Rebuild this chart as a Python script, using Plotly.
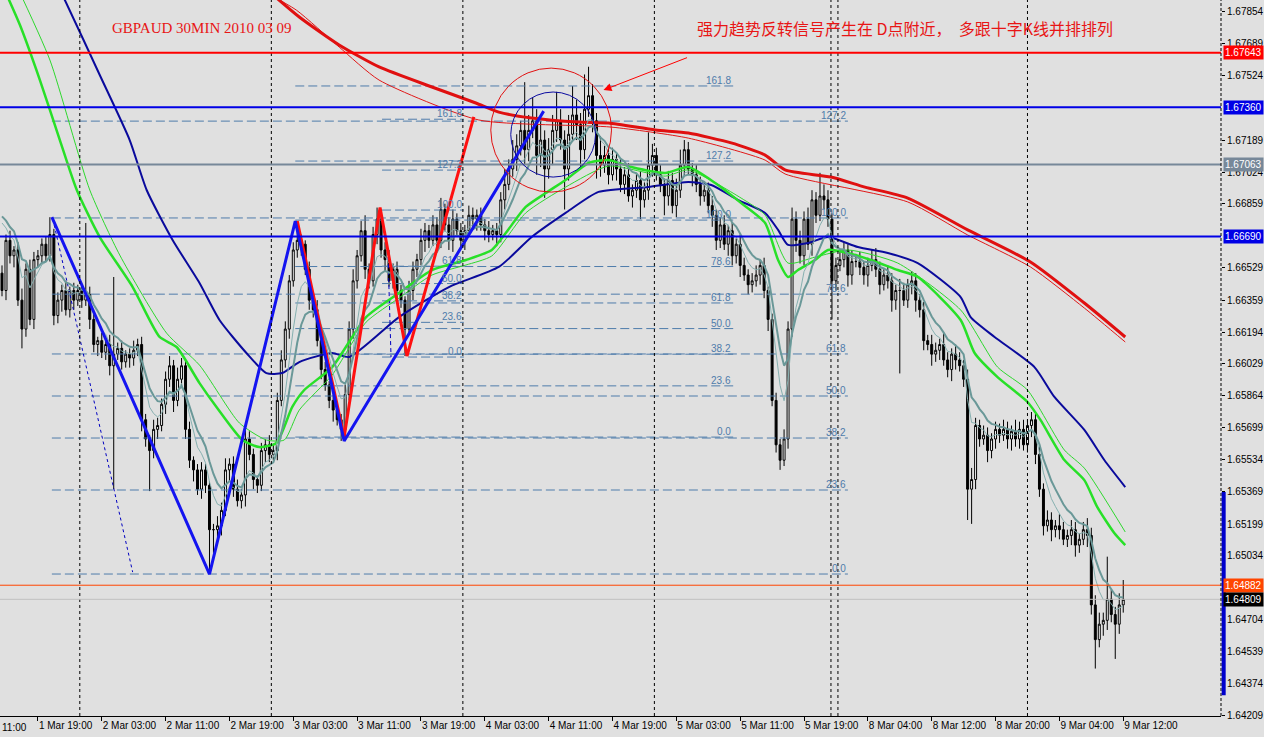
import plotly.graph_objects as go

# ---------------- data (30-min bars, bar index 0 = 1 Mar 14:30) ----------------
first_open = 1.6650
closes = [
    1.6641, 1.6667, 1.6659, 1.6662, 1.6636, 1.6621, 1.6652, 1.6626, 1.6657, 1.6659,
    1.6665, 1.6659, 1.6670, 1.6628, 1.6636, 1.6641, 1.6631, 1.6641, 1.6636, 1.6641,
    1.6636, 1.6639, 1.6626, 1.6613, 1.6615, 1.6609, 1.6613, 1.6602, 1.6608, 1.6611,
    1.6604, 1.6608, 1.6606, 1.6610, 1.6613, 1.6574, 1.6564, 1.6558, 1.6569, 1.6571,
    1.6582, 1.6595, 1.6602, 1.6584, 1.6595, 1.6602, 1.6569, 1.6553, 1.6548, 1.6538,
    1.6548, 1.6540, 1.6517, 1.6517, 1.6519, 1.6527, 1.6548, 1.6551, 1.6538, 1.6532,
    1.6535, 1.6564, 1.6556, 1.6543, 1.6540, 1.6558, 1.6561, 1.6556, 1.6558, 1.6584,
    1.6605, 1.6621, 1.6646, 1.6662, 1.6667, 1.6665, 1.6652, 1.6636, 1.6631, 1.6615,
    1.6600, 1.6592, 1.6584, 1.6579, 1.6574, 1.6569, 1.6587, 1.6621, 1.6646, 1.6659,
    1.6672, 1.6652, 1.6646, 1.6670, 1.6678, 1.6662, 1.6657, 1.6646, 1.6652, 1.6641,
    1.6636, 1.6621, 1.6641, 1.6652, 1.6657, 1.6667, 1.6672, 1.6667, 1.6675, 1.6667,
    1.6683, 1.6675, 1.6667, 1.6678, 1.6672, 1.6667, 1.6672, 1.6680, 1.6678, 1.6680,
    1.6675, 1.6672, 1.6670, 1.6672, 1.6670, 1.6688, 1.6696, 1.6704, 1.6709, 1.6716,
    1.6724, 1.6714, 1.6724, 1.6729, 1.6711, 1.6719, 1.6704, 1.6714, 1.6724, 1.6729,
    1.6719, 1.6704, 1.6722, 1.6732, 1.6727, 1.6714, 1.6735, 1.6742, 1.6729, 1.6711,
    1.6706, 1.6711, 1.6701, 1.6709, 1.6704, 1.6696, 1.6701, 1.6690, 1.6693, 1.6698,
    1.6688, 1.6693, 1.6706, 1.6711, 1.6701, 1.6696, 1.6690, 1.6698, 1.6685, 1.6693,
    1.6706, 1.6714, 1.6704, 1.6701, 1.6696, 1.6690, 1.6693, 1.6685, 1.6680, 1.6667,
    1.6675, 1.6665, 1.6672, 1.6659, 1.6665, 1.6654, 1.6649, 1.6644, 1.6646, 1.6649,
    1.6654, 1.6641, 1.6626, 1.6584, 1.6561, 1.6553, 1.6564, 1.6621, 1.6678, 1.6667,
    1.6659, 1.6678, 1.6665, 1.6688, 1.6680, 1.6690, 1.6688, 1.6678, 1.6646, 1.6654,
    1.6657, 1.6662, 1.6649, 1.6656, 1.6656, 1.6653, 1.6649, 1.6654, 1.6657, 1.6652,
    1.6644, 1.6649, 1.6646, 1.6636, 1.6641, 1.6641, 1.6636, 1.6644, 1.6646, 1.6636,
    1.6631, 1.6615, 1.6613, 1.6608, 1.6610, 1.6613, 1.6605, 1.6600, 1.6608, 1.6605,
    1.6602, 1.6595, 1.6538, 1.6543, 1.6571, 1.6564, 1.6566, 1.6558, 1.6564, 1.6569,
    1.6566, 1.6569, 1.6564, 1.6568, 1.6564, 1.6569, 1.6561, 1.6571, 1.6574, 1.6556,
    1.6538, 1.6519, 1.6522, 1.6517, 1.6519, 1.6517, 1.6512, 1.6514, 1.6517, 1.6509,
    1.6512, 1.6517, 1.6514, 1.6478, 1.6460, 1.6468, 1.6470, 1.6481, 1.6473, 1.6468,
    1.6478, 1.64809,
]
up_wick_pips = [
    4, 3, 5, 2, 4, 6, 3, 5, 4, 3,
    3, 4, 9, 3, 4, 3, 5, 2, 4, 3,
    3, 37, 4, 3, 2, 4, 3, 5, 40, 3,
    4, 2, 3, 5, 3, 4, 3, 2, 5, 4,
    3, 4, 5, 3, 6, 4, 3, 4, 2, 3,
    4, 3, 2, 3, 5, 4, 6, 3, 4, 5,
    3, 5, 4, 3, 2, 4, 3, 5, 3, 4,
    5, 4, 3, 4, 10, 3, 2, 4, 3, 5,
    3, 4, 2, 3, 4, 3, 5, 4, 6, 3,
    5, 8, 3, 4, 6, 3, 4, 5, 3, 4,
    3, 2, 5, 4, 3, 6, 4, 3, 5, 4,
    6, 3, 4, 5, 3, 4, 3, 5, 4, 3,
    4, 3, 5, 3, 4, 4, 8, 5, 10, 6,
    5, 25, 8, 12, 6, 10, 5, 6, 8, 15,
    6, 5, 10, 15, 8, 6, 18, 15, 6, 4,
    10, 5, 4, 6, 3, 5, 4, 6, 3, 4,
    5, 4, 17, 6, 4, 5, 3, 5, 4, 6,
    8, 5, 4, 3, 5, 4, 3, 4, 5, 3,
    4, 5, 3, 4, 3, 5, 4, 3, 4, 5,
    3, 4, 2, 3, 4, 3, 5, 4, 6, 4,
    5, 4, 6, 5, 4, 12, 6, 5, 3, 4,
    5, 4, 3, 6, 4, 5, 3, 4, 5, 6,
    4, 3, 5, 4, 3, 6, 4, 3, 5, 4,
    3, 4, 3, 5, 4, 3, 6, 4, 3, 5,
    4, 3, 5, 6, 4, 3, 5, 4, 3, 4,
    3, 5, 4, 3, 6, 4, 5, 3, 4, 3,
    4, 3, 5, 4, 3, 6, 4, 3, 5, 4,
    3, 4, 6, 4, 5, 6, 4, 22, 5, 4, 6, 10,
]
down_wick_pips = [
    3, 5, 4, 6, 3, 10, 4, 3, 5, 4,
    4, 3, 3, 5, 4, 6, 3, 4, 5, 3,
    4, 3, 5, 4, 6, 3, 4, 5, 64, 3,
    4, 3, 5, 4, 3, 6, 4, 21, 4, 5,
    3, 5, 4, 6, 3, 4, 5, 4, 6, 3,
    5, 4, 23, 12, 4, 5, 3, 6, 4, 3,
    4, 6, 3, 5, 4, 3, 6, 4, 3, 5,
    3, 4, 5, 3, 4, 6, 3, 5, 4, 3,
    5, 3, 4, 6, 3, 6, 4, 3, 5, 4,
    3, 5, 4, 3, 5, 4, 6, 3, 4, 5,
    4, 14, 3, 5, 4, 3, 6, 4, 3, 5,
    4, 3, 5, 6, 3, 4, 5, 3, 4, 6,
    3, 5, 4, 3, 6, 4, 5, 3, 4, 6,
    5, 8, 6, 4, 10, 6, 15, 5, 8, 6,
    5, 21, 6, 4, 8, 10, 5, 4, 6, 12,
    6, 4, 5, 3, 6, 4, 5, 3, 6, 4,
    10, 4, 5, 6, 3, 4, 10, 5, 4, 6,
    4, 5, 3, 6, 4, 5, 3, 4, 6, 5,
    4, 3, 6, 5, 4, 6, 3, 5, 4, 3,
    5, 4, 6, 3, 4, 5, 3, 5, 4, 6,
    4, 5, 3, 6, 4, 3, 5, 4, 20, 5,
    3, 4, 6, 5, 3, 4, 5, 6, 3, 4,
    5, 3, 4, 6, 5, 43, 3, 4, 5, 6,
    4, 5, 3, 6, 4, 5, 3, 4, 6, 5,
    3, 4, 16, 18, 5, 4, 3, 6, 4, 5,
    4, 3, 5, 6, 4, 5, 3, 4, 6, 5,
    4, 5, 3, 6, 4, 5, 3, 4, 5, 6,
    4, 3, 6, 5, 15, 4, 6, 5, 4, 18, 5, 4,
]

# moving averages (bar index, price)
green_thick_bars = [-0.5, 4.5, 9.5, 14.5, 18.75, 24.5, 32.75, 39.5, 43.75, 49.5, 53.75, 60.25, 64.5, 68.75,
                    72.75, 75.75, 82.75, 91.25, 99.5, 107.75, 116.25, 122.75, 126.25, 131.25, 136.25, 141.25,
                    147, 152, 157.75, 166.25, 172, 178.75, 185.25, 191.25, 194.5, 197, 199.5, 203.75, 207,
                    212, 217.75, 224.5, 229.5, 240.25, 243.75, 249.5, 257, 260.25, 266.25, 271.25, 274.5,
                    278.75, 281.5]
green_thick_prices = [1.68020, 1.67786, 1.67501, 1.67190, 1.66931, 1.66687, 1.66428, 1.66169, 1.66117, 1.65930,
                      1.65806, 1.65635, 1.65598, 1.65619, 1.65806, 1.65894, 1.66013, 1.66272, 1.66397, 1.66516,
                      1.66568, 1.66620, 1.66708, 1.66843, 1.66915, 1.66983, 1.67071, 1.67086, 1.67050, 1.67019,
                      1.67050, 1.66967, 1.66863, 1.66760, 1.66568, 1.66480, 1.66516, 1.66568, 1.66620, 1.66604,
                      1.66568, 1.66516, 1.66480, 1.66257, 1.66086, 1.65961, 1.65832, 1.65739, 1.65531, 1.65427,
                      1.65287, 1.65153, 1.65090]
green_thin_bars = [3.0, 12, 22, 29.5, 41.25, 49.5, 59.5, 66.25, 70.75, 74.5, 82.75, 91.25, 99.5, 107.75, 116.25,
                   122.75, 131.25, 141.25, 152, 166.25, 172, 185.25, 191.25, 197, 203.75, 212, 224.5, 240.25,
                   249.5, 257, 266.25, 271.25, 281.5]
green_thin_prices = [1.68020, 1.67605, 1.66931, 1.66594, 1.66189, 1.66023, 1.65723, 1.65635, 1.65635, 1.65790,
                     1.65972, 1.66246, 1.66371, 1.66490, 1.66542, 1.66589, 1.66812, 1.66946, 1.67055, 1.67003,
                     1.67035, 1.66889, 1.66801, 1.66552, 1.66583, 1.66620, 1.66552, 1.66309, 1.66013, 1.65894,
                     1.65583, 1.65489, 1.65158]
blue_ma_bars = [13.25, 15.75, 24.5, 32, 36.25, 42.75, 49.5, 54.5, 61.25, 66.25, 70.25, 74.5, 82.75, 87, 99.5,
                112, 124.5, 132.75, 141.25, 149.5, 162, 172, 177.75, 184.5, 191.25, 194.5, 197, 202, 207,
                214.5, 222, 229.5, 240.25, 242.75, 248.75, 258.75, 263.75, 271.25, 276.25, 281.5]
blue_ma_prices = [1.68020, 1.67916, 1.67527, 1.67190, 1.66931, 1.66672, 1.66449, 1.66257, 1.66086, 1.65982,
                  1.65982, 1.66039, 1.66086, 1.66065, 1.66272, 1.66428, 1.66532, 1.66687, 1.66812, 1.66921,
                  1.66947, 1.66972, 1.66957, 1.66879, 1.66812, 1.66724, 1.66646, 1.66656, 1.66687, 1.66635,
                  1.66604, 1.66552, 1.66376, 1.66272, 1.66169, 1.66013, 1.65858, 1.65687, 1.65531, 1.65391]
red_thick_bars = [66.5, 74.5, 84.5, 94.5, 107.75, 118.75, 124.5, 132.75, 144.5, 152, 163.75, 172, 182.75,
                  191.25, 196.25, 207.75, 216.25, 227, 242, 257.75, 271.25, 281.5]
red_thick_prices = [1.67968, 1.67828, 1.67683, 1.67569, 1.67465, 1.67382, 1.67335, 1.67304, 1.67283, 1.67278,
                    1.67242, 1.67226, 1.67175, 1.67112, 1.67035, 1.66998, 1.66946, 1.66889, 1.66724, 1.66558,
                    1.66345, 1.66169]
red_thin_bars = [65, 73.75, 84.5, 94.5, 119.5, 152.75, 172, 191.25, 196.25, 227, 242, 257.75, 271.25, 281.5]
red_thin_prices = [1.67968, 1.67864, 1.67672, 1.67501, 1.67294, 1.67257, 1.67200, 1.67086, 1.67014, 1.66869,
                   1.66698, 1.66532, 1.66319, 1.66143]
teal_seed_thick = 1.6688
teal_seed_thin = 1.6690
teal_period_thick = 10
teal_period_thin = 6

# zigzag legs
blue_zz_bars = [12.5, 52, 73.5, 85.75, 135.75]
blue_zz_prices = [1.6679, 1.6494, 1.6677, 1.6563, 1.6734]
red_zz_bars = [74, 85.75, 94.75, 101.5, 118.25]
red_zz_prices = [1.6677, 1.6565, 1.6684, 1.6607, 1.6731]

# fibonacci retracements: (start bar, end bar, price at 0 %, price at 100 %), levels
fib_levels_d = [0, 23.6, 38.2, 50, 61.8, 78.6, 100, 127.2]
fib_levels_c = [0, 23.6, 38.2, 50, 61.8, 78.6, 100, 127.2, 161.8]
fib_levels_b = [0, 23.6, 38.2, 50, 61.8, 100, 127.2, 161.8]
fib_d = (12.5, 212.0, 1.64940, 1.66786)
fib_c = (73.5, 183.25, 1.65650, 1.66775)
fib_b = (95.25, 115.75, 1.66065, 1.66827)
fib_d_diag_bars = [12.75, 32.75]
fib_d_diag_prices = [1.6678, 1.6495]
fib_b_diag_bars = [96.75, 97.5]
fib_b_diag_prices = [1.66583, 1.66065]

# horizontal price lines
hline_prices = [1.67643, 1.67360, 1.67063, 1.66690, 1.64882, 1.64809]
hline_labels = ["1.67643", "1.67360", "1.67063", "1.66690", "1.64882", "1.64809"]
hline_colors = ["#ff0000", "#0000e6", "#778899", "#0000e6", "#ff4500", "#c0c0c0"]
hline_label_bg = ["#ff0000", "#0000e6", "#778899", "#0000e6", "#ff4500", "#000000"]
hline_widths = [2, 2, 2, 2, 1, 1]

# circles around the reversal zone (bar0, bar1, price_low, price_high)
red_circle = (122.5, 152.75, 1.66920, 1.67563)
blue_circle = (127.5, 148.75, 1.66998, 1.67439)
arrow_tip = (150.75, 1.67449)
side_bar_prices = (1.64312, 1.65365)

day_separator_bars = [19.5, 67.5, 115.5, 163.5, 207.75, 209.5, 257.0]

time_tick_bars = [9, 25, 41, 57, 73, 89, 105, 121, 137, 153, 169, 185, 201, 217, 233, 249, 265, 281]
time_tick_labels = ["1 Mar 19:00", "2 Mar 03:00", "2 Mar 11:00", "2 Mar 19:00", "3 Mar 03:00",
                    "3 Mar 11:00", "3 Mar 19:00", "4 Mar 03:00", "4 Mar 11:00", "4 Mar 19:00",
                    "5 Mar 03:00", "5 Mar 11:00", "5 Mar 19:00", "8 Mar 04:00", "8 Mar 12:00",
                    "8 Mar 20:00", "9 Mar 04:00", "9 Mar 12:00"]
price_ticks = [1.67854, 1.67689, 1.67524, 1.67189, 1.67024, 1.66859, 1.66529, 1.66359, 1.66194, 1.66029,
               1.65864, 1.65699, 1.65534, 1.65369, 1.65199, 1.65034, 1.64704, 1.64539, 1.64374, 1.64209]

title_text = "GBPAUD 30MIN 2010 03 09"
note_text = "强力趋势反转信号产生在 D点附近，  多跟十字K线并排排列"

# ---------------- derived ----------------
n = len(closes)
bars = list(range(n))
opens = [first_open] + closes[:-1]
highs = [max(o, c) + u / 10000 for o, c, u in zip(opens, closes, up_wick_pips)]
lows = [min(o, c) - d / 10000 for o, c, d in zip(opens, closes, down_wick_pips)]


def ema(values, period, seed):
    a = 2.0 / (period + 1)
    out, prev = [], seed
    for v in values:
        prev = prev + a * (v - prev)
        out.append(prev)
    return out


teal_thick = ema(closes, teal_period_thick, teal_seed_thick)
teal_thin = ema(closes, teal_period_thin, teal_seed_thin)

X_RANGE = [-0.5, 305.5]
Y_RANGE = [1.64204, 1.67916]
BG = "#e0e0e0"
FIB_COLOR = "#4f7cab"

fig = go.Figure()

fig.add_trace(go.Candlestick(
    x=bars, open=opens, high=highs, low=lows, close=closes,
    increasing=dict(line=dict(color="black", width=1), fillcolor="white"),
    decreasing=dict(line=dict(color="black", width=1), fillcolor="black"),
    whiskerwidth=0, showlegend=False, hoverinfo="skip"))

# fibonacci lines
annotations = []
for (b0, b1, p0, p100), levels in ((fib_d, fib_levels_d), (fib_c, fib_levels_c), (fib_b, fib_levels_b)):
    xs, ys = [], []
    for lv in levels:
        p = p0 + (p100 - p0) * lv / 100.0
        xs += [b0, b1, None]
        ys += [p, p, None]
        annotations.append(dict(x=b1, y=p, xref="x", yref="y", text=("%.1f" % lv), showarrow=False,
                                xanchor="right", yanchor="bottom", yshift=-2,
                                font=dict(family="Liberation Sans", size=10, color=FIB_COLOR)))
    fig.add_trace(go.Scatter(x=xs, y=ys, mode="lines", showlegend=False, hoverinfo="skip",
                             line=dict(color=FIB_COLOR, width=1, dash="9px,4px")))

fig.add_trace(go.Scatter(x=fib_d_diag_bars, y=fib_d_diag_prices, mode="lines", showlegend=False,
                         hoverinfo="skip", line=dict(color="#0000c0", width=1, dash="3px,3px")))
fig.add_trace(go.Scatter(x=fib_b_diag_bars, y=fib_b_diag_prices, mode="lines", showlegend=False,
                         hoverinfo="skip", line=dict(color="#0000c0", width=1, dash="4px,3px")))

# moving averages
ma_specs = [
    (red_thin_bars, red_thin_prices, "#e01818", 1),
    (red_thick_bars, red_thick_prices, "#e01010", 3),
    (blue_ma_bars, blue_ma_prices, "#0a0a9c", 2),
    (green_thin_bars, green_thin_prices, "#2ed82e", 1),
    (green_thick_bars, green_thick_prices, "#28e028", 2.5),
]
for bx, py, col, w in ma_specs:
    fig.add_trace(go.Scatter(x=bx, y=py, mode="lines", showlegend=False, hoverinfo="skip",
                             line=dict(color=col, width=w, shape="spline", smoothing=0.6)))
fig.add_trace(go.Scatter(x=bars, y=teal_thin, mode="lines", showlegend=False, hoverinfo="skip",
                         line=dict(color="#86b0b0", width=1)))
fig.add_trace(go.Scatter(x=bars, y=teal_thick, mode="lines", showlegend=False, hoverinfo="skip",
                         line=dict(color="#6a9898", width=2)))

# zigzags
fig.add_trace(go.Scatter(x=red_zz_bars, y=red_zz_prices, mode="lines", showlegend=False, hoverinfo="skip",
                         line=dict(color="#ff1010", width=3)))
fig.add_trace(go.Scatter(x=blue_zz_bars, y=blue_zz_prices, mode="lines", showlegend=False, hoverinfo="skip",
                         line=dict(color="#1414f0", width=3)))

shapes = []
for b in day_separator_bars:
    shapes.append(dict(type="line", xref="x", yref="paper", x0=b, x1=b, y0=0, y1=1,
                       line=dict(color="black", width=1, dash="3px,3px"), layer="above"))
for p, col, w in zip(hline_prices, hline_colors, hline_widths):
    shapes.append(dict(type="line", xref="paper", yref="y", x0=0, x1=1, y0=p, y1=p,
                       line=dict(color=col, width=w), layer="above"))
for (b0, b1, lo, hi), col in ((red_circle, "#e01010"), (blue_circle, "#0a0aa0")):
    shapes.append(dict(type="circle", xref="x", yref="y", x0=b0, x1=b1, y0=lo, y1=hi,
                       line=dict(color=col, width=1), layer="above"))
# right border (dotted) and the blue range bar
shapes.append(dict(type="line", xref="paper", yref="paper", x0=1, x1=1, y0=0, y1=1,
                   line=dict(color="black", width=1, dash="3px,2px"), layer="above"))
shapes.append(dict(type="line", xref="paper", yref="y", x0=1.0022, x1=1.0022,
                   y0=side_bar_prices[0], y1=side_bar_prices[1],
                   line=dict(color="#0000cc", width=4), layer="above"))

for p, txt, bg in zip(hline_prices, hline_labels, hline_label_bg):
    annotations.append(dict(x=1, y=p, xref="paper", yref="y", text=txt, showarrow=False,
                            xanchor="left", yanchor="middle", xshift=2, bgcolor=bg, borderpad=1,
                            font=dict(family="Liberation Sans", size=10, color="white")))

annotations.append(dict(x=arrow_tip[0], y=arrow_tip[1], xref="x", yref="y", text="", showarrow=True,
                        arrowhead=2, arrowsize=1.6, arrowwidth=1, arrowcolor="#ff0000", ax=85, ay=-33))
annotations.append(dict(x=110 / 1224, y=1 - 28 / 716, xref="paper", yref="paper", text=title_text,
                        showarrow=False, xanchor="left", yanchor="middle",
                        font=dict(family="Liberation Serif", size=15, color="#e81515")))
annotations.append(dict(x=697 / 1224, y=1 - 28 / 716, xref="paper", yref="paper", text=note_text,
                        showarrow=False, xanchor="left", yanchor="middle",
                        font=dict(family="Noto Sans CJK SC", size=16, color="#e81515")))
annotations.append(dict(x=0, y=0, xref="paper", yref="paper", text="11:00", showarrow=False,
                        xanchor="left", yanchor="top", yshift=-4,
                        font=dict(family="Liberation Sans", size=10, color="black")))

fig.update_layout(
    width=1264, height=737,
    margin=dict(l=0, r=40, t=0, b=21),
    paper_bgcolor=BG, plot_bgcolor=BG,
    showlegend=False,
    shapes=shapes, annotations=annotations,
    xaxis=dict(range=X_RANGE, rangeslider=dict(visible=False), showgrid=False, zeroline=False,
               tickmode="array", tickvals=time_tick_bars, ticktext=time_tick_labels,
               ticks="outside", ticklen=4, tickcolor="black", ticklabelposition="outside right",
               showline=True, linecolor="black", linewidth=1,
               tickfont=dict(family="Liberation Sans", size=10, color="black")),
    yaxis=dict(range=Y_RANGE, side="right", showgrid=False, zeroline=False,
               tickmode="array", tickvals=price_ticks, ticktext=["%.5f" % v for v in price_ticks],
               ticks="outside", ticklen=3, tickcolor="black", showline=False,
               tickfont=dict(family="Liberation Sans", size=10, color="black")),
)

fig.write_html("out.html", config={"displayModeBar": False},
               post_script="document.body.style.margin='0';document.body.style.overflow='hidden';")
